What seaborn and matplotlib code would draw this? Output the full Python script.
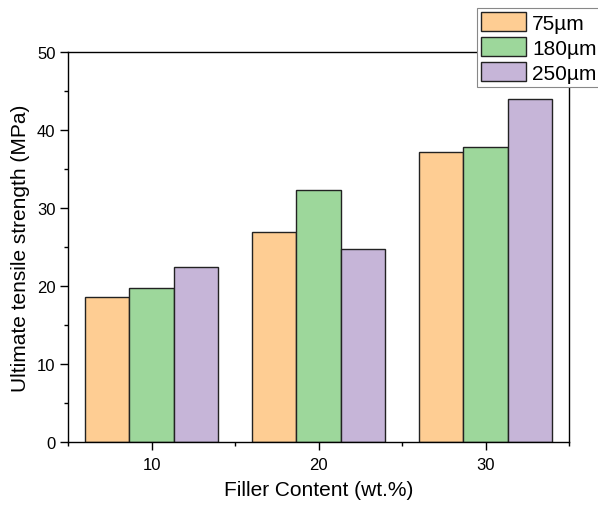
import matplotlib
matplotlib.use("Agg")
import matplotlib.pyplot as plt
import seaborn as sns
import pandas as pd
from matplotlib.patches import Patch
from matplotlib.ticker import MultipleLocator

contents = [10, 20, 30]
sizes = ["75µm", "180µm", "250µm"]
uts_75 = [18.6, 26.9, 37.1]
uts_180 = [19.7, 32.3, 37.8]
uts_250 = [22.4, 24.7, 43.9]
colors = ["#FECD93", "#9DD79B", "#C6B5D8"]

rows = []
for s, vals in zip(sizes, [uts_75, uts_180, uts_250]):
    for c, v in zip(contents, vals):
        rows.append({"content": c, "size": s, "uts": v})
df = pd.DataFrame(rows)

sns.set_style("white")
plt.rcParams["font.family"] = ["Liberation Sans", "DejaVu Sans"]
plt.rcParams["text.color"] = "black"
plt.rcParams["axes.labelcolor"] = "black"
plt.rcParams["xtick.color"] = "black"
plt.rcParams["ytick.color"] = "black"

fig = plt.figure(figsize=(5.98, 5.06), dpi=100)
ax = fig.add_axes([68/598, 63/506, (569-68)/598, (443-52.7)/506])

sns.barplot(data=df, x="content", y="uts", hue="size", hue_order=sizes,
            palette=colors, native_scale=True, width=0.8, dodge=True,
            edgecolor="#222222", linewidth=1.0, saturation=1, ax=ax,
            legend=False, errorbar=None)

ax.set_xlim(5, 35)
ax.set_ylim(0, 50)
ax.set_xticks(contents)
ax.set_xticklabels([str(c) for c in contents])
ax.set_xticks([5, 15, 25, 35], minor=True)
ax.yaxis.set_major_locator(MultipleLocator(10))
ax.yaxis.set_minor_locator(MultipleLocator(5))

for sp in ax.spines.values():
    sp.set_visible(True)
    sp.set_color("#000000")
    sp.set_linewidth(1.0)

ax.tick_params(axis="both", which="major", direction="out", length=5.5,
               width=1.0, labelsize=12, color="#000000", labelcolor="black",
               pad=3.5, bottom=True, left=True, top=False, right=False)
ax.tick_params(axis="x", which="major", pad=5)
ax.tick_params(axis="both", which="minor", direction="out", length=3.2,
               width=1.0, color="#000000",
               bottom=True, left=True, top=False, right=False)

ax.set_xlabel("Filler Content (wt.%)", fontsize=15, labelpad=6, color="black")
ax.set_ylabel("Ultimate tensile strength (MPa)", fontsize=15, labelpad=5,
              color="black")

handles = [Patch(facecolor=c, edgecolor="#222222", linewidth=1.0) for c in colors]
leg = fig.legend(handles, sizes, loc="upper left",
                 bbox_to_anchor=(477/598, 1 - 9/506),
                 bbox_transform=fig.transFigure,
                 fontsize=15, frameon=True, fancybox=False,
                 edgecolor="#888888", framealpha=1,
                 handlelength=2.15, handleheight=1.05,
                 labelspacing=0.2, borderpad=0.2, handletextpad=0.3,
                 borderaxespad=0)
leg.get_frame().set_linewidth(0.8)
for t in leg.get_texts():
    t.set_color("black")

fig.savefig("out.png", dpi=100)
